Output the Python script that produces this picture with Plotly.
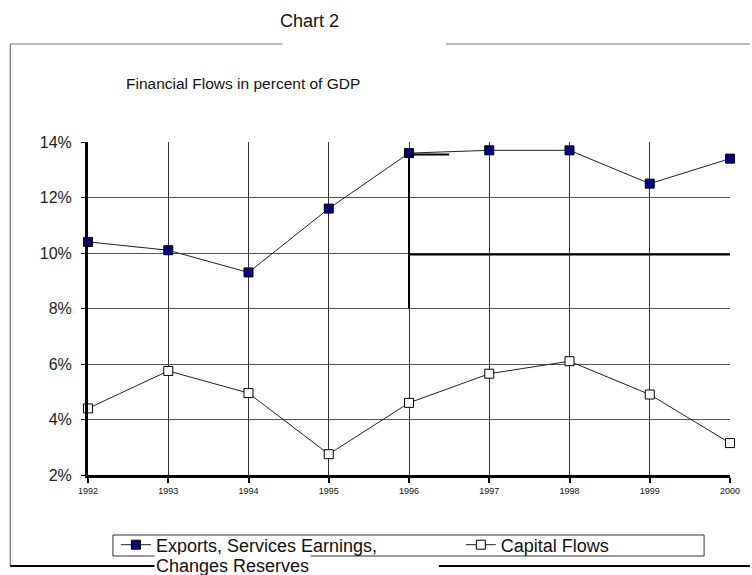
import plotly.graph_objects as go

years = [1992, 1993, 1994, 1995, 1996, 1997, 1998, 1999, 2000]
tick_labels = ["1992", "1993", "1994", "1995", "1996", "1997", "1998", "1999", "2000"]
exports = [10.4, 10.1, 9.3, 11.6, 13.6, 13.7, 13.7, 12.5, 13.4]
capital = [4.4, 5.75, 4.95, 2.75, 4.6, 5.65, 6.1, 4.9, 3.15]
y_ticks = [2, 4, 6, 8, 10, 12, 14]
y_tick_labels = ["2%", "4%", "6%", "8%", "10%", "12%", "14%"]

FONT = "Liberation Sans, Arial, sans-serif"

fig = go.Figure()
fig.add_trace(go.Scatter(
    x=years, y=exports, mode="lines+markers",
    name="Exports, Services Earnings,",
    line=dict(color="#222222", width=1),
    marker=dict(symbol="square", size=9, color="#000080", line=dict(color="#000000", width=1)),
    cliponaxis=False, legend="legend",
))
fig.add_trace(go.Scatter(
    x=years, y=capital, mode="lines+markers",
    name="Capital Flows",
    line=dict(color="#222222", width=1),
    marker=dict(symbol="square", size=9, color="#ffffff", line=dict(color="#000000", width=1)),
    cliponaxis=False, legend="legend2",
))

W, H = 752, 575
L, R, T, B = 88, 20, 142, 100
pw, ph = W - L - R, H - T - B


def px(xp):
    return (xp - L) / pw


def py(yp):
    return (H - B - yp) / ph


shapes = []
# outer frame pieces
shapes.append(dict(type="line", xref="paper", yref="paper", x0=px(10), x1=px(10), y0=py(44), y1=py(566), line=dict(color="#555", width=1)))
shapes.append(dict(type="line", xref="paper", yref="paper", x0=px(10), x1=px(283), y0=py(44), y1=py(44), line=dict(color="#777", width=1)))
shapes.append(dict(type="line", xref="paper", yref="paper", x0=px(447), x1=px(752), y0=py(44), y1=py(44), line=dict(color="#777", width=1)))
shapes.append(dict(type="line", xref="paper", yref="paper", x0=px(10), x1=px(156), y0=py(566), y1=py(566), line=dict(color="#000", width=2)))
shapes.append(dict(type="line", xref="paper", yref="paper", x0=px(440), x1=px(752), y0=py(566), y1=py(566), line=dict(color="#000", width=2)))
# legend box
shapes.append(dict(type="rect", xref="paper", yref="paper", x0=px(113), x1=px(706), y0=py(556), y1=py(535), line=dict(color="#333", width=1)))
# drawing artifacts in original
shapes.append(dict(type="line", xref="x", yref="y", x0=1996, x1=1996, y0=8, y1=13.6, line=dict(color="#000", width=2)))
shapes.append(dict(type="line", xref="x", yref="y", x0=1996, x1=2000, y0=9.95, y1=9.95, line=dict(color="#000", width=2)))
shapes.append(dict(type="line", xref="x", yref="y", x0=1996, x1=1996.5, y0=13.55, y1=13.55, line=dict(color="#000", width=2)))

leg_common = dict(
    orientation="h", yanchor="middle", xanchor="left",
    bgcolor="rgba(0,0,0,0)", borderwidth=0,
    font=dict(size=18, family=FONT, color="#111"),
)

fig.update_layout(
    width=W, height=H,
    margin=dict(l=L, r=R, t=T, b=B),
    paper_bgcolor="white", plot_bgcolor="white",
    font=dict(family=FONT, color="#111"),
    showlegend=True,
    legend=dict(x=px(116), y=py(545), **leg_common),
    legend2=dict(x=px(462), y=py(545), **leg_common),
    shapes=shapes,
    annotations=[
        dict(text="Chart 2", xref="paper", yref="paper", x=px(310), y=py(21), showarrow=False,
             font=dict(size=18, family=FONT, color="#111"), xanchor="center", yanchor="middle"),
        dict(text="Financial Flows in percent of GDP", xref="paper", yref="paper", x=px(124), y=py(83),
             showarrow=False, font=dict(size=15.5, family=FONT, color="#111"), xanchor="left", yanchor="middle"),
        dict(text="Changes Reserves", xref="paper", yref="paper", x=px(154), y=py(566),
             showarrow=False, font=dict(size=18, family=FONT, color="#111"), xanchor="left", yanchor="middle",
             bgcolor="white"),
    ],
)

fig.update_xaxes(
    range=[1992, 2000], tickvals=years, ticktext=tick_labels,
    showgrid=True, gridcolor="#333", gridwidth=1,
    showline=True, linecolor="#000", linewidth=3,
    ticks="outside", ticklen=5, tickcolor="#000", tickwidth=2,
    tickfont=dict(size=9, family=FONT, color="#111"),
    zeroline=False, fixedrange=True,
)
fig.update_yaxes(
    range=[2, 14], tickvals=y_ticks, ticktext=y_tick_labels,
    showgrid=True, gridcolor="#555", gridwidth=1,
    showline=True, linecolor="#000", linewidth=3,
    ticks="outside", ticklen=4, tickcolor="#000", tickwidth=1,
    ticklabelstandoff=6,
    tickfont=dict(size=16, family=FONT, color="#222"),
    zeroline=False, fixedrange=True,
)

fig.write_html("out.html")
